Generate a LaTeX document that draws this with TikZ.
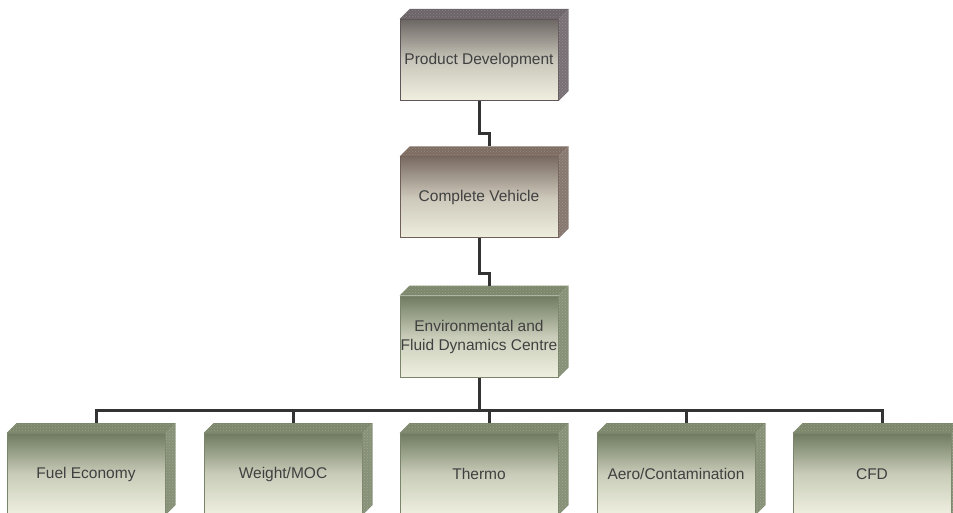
\documentclass[tikz,border=0pt]{standalone}
\usepackage{fontspec}
\setmainfont{Liberation Sans}
\usetikzlibrary{positioning, patterns, calc}

\definecolor{labelgray}{HTML}{404040}
\definecolor{linkgray}{HTML}{333333}
\definecolor{cream}{HTML}{EFEFDF}
\definecolor{pdface}{HTML}{6D6764}
\definecolor{pdtop}{HTML}{6C6468}
\definecolor{pdborder}{HTML}{5E5658}
\definecolor{cvface}{HTML}{7A6B62}
\definecolor{cvtop}{HTML}{7D6C62}
\definecolor{cvborder}{HTML}{6E5F58}
\definecolor{grface}{HTML}{6F7B60}
\definecolor{grtop}{HTML}{7C876B}
\definecolor{grborder}{HTML}{7A846A}

\begin{document}
\begin{tikzpicture}[
    x=1pt, y=1pt,
    font=\fontsize{15.5}{19}\selectfont,
    link/.style={line width=3pt, draw=linkgray},
    unit/.style={
        rectangle,
        minimum width=158pt,
        minimum height=81pt,
        inner sep=0pt,
        align=center,
        text=labelgray,
        draw=#1border,
        line width=1pt,
        top color=#1face,
        bottom color=cream,
        middle color=#1face!30!cream
    },
    facet/.style={
        fill=#1,
        postaction={pattern=crosshatch dots, pattern color=white, opacity=0.2}
    }
]

\useasboundingbox (0,0) rectangle (953,-513);
\clip (0,0) rectangle (953,-513);

% === UPPER CHAIN ===
\node (pd) [unit=pd] at (479,-60) {Product Development};
\node (cv) [unit=cv] at (479,-197.5) {Complete Vehicle};
\node (efdc) [unit=gr] at (479,-336.5) {Environmental and\\Fluid Dynamics Centre};

% === DEPARTMENTS ===
\node (fuel) [unit=gr] at (86,-474) {Fuel Economy};
\node (weight) [unit=gr] at (283,-474) {Weight/MOC};
\node (thermo) [unit=gr] at (479,-474) {Thermo};
\node (aero) [unit=gr] at (676,-474) {Aero/Contamination};
\node (cfd) [unit=gr] at (872,-474) {CFD};

% === TOP AND SIDE FACES ===
\foreach \n/\c in {pd/pd, cv/cv, efdc/gr, fuel/gr, weight/gr, thermo/gr, aero/gr, cfd/gr} {
    \path [facet=\c top] (\n.north west) -- ++(10,10) -- ($(\n.north east)+(10,10)$) -- (\n.north east) -- cycle;
    \path [facet=\c top!92!white] (\n.north east) -- ++(10,10) -- ($(\n.south east)+(10,10)$) -- (\n.south east) -- cycle;
}

% === CONNECTORS ===
\draw [link] (pd.south) -- ++(0,-33) -| ([shift={(10,10)}]cv.north);
\draw [link] (cv.south) -- ++(0,-35) -| ([shift={(10,10)}]efdc.north);
\draw [link] (efdc.south) -- ++(0,-33) coordinate (bus);
\foreach \n in {fuel, weight, thermo, aero, cfd} {
    \draw [link] (bus) -| ([shift={(10,10)}]\n.north);
}

\end{tikzpicture}
\end{document}
